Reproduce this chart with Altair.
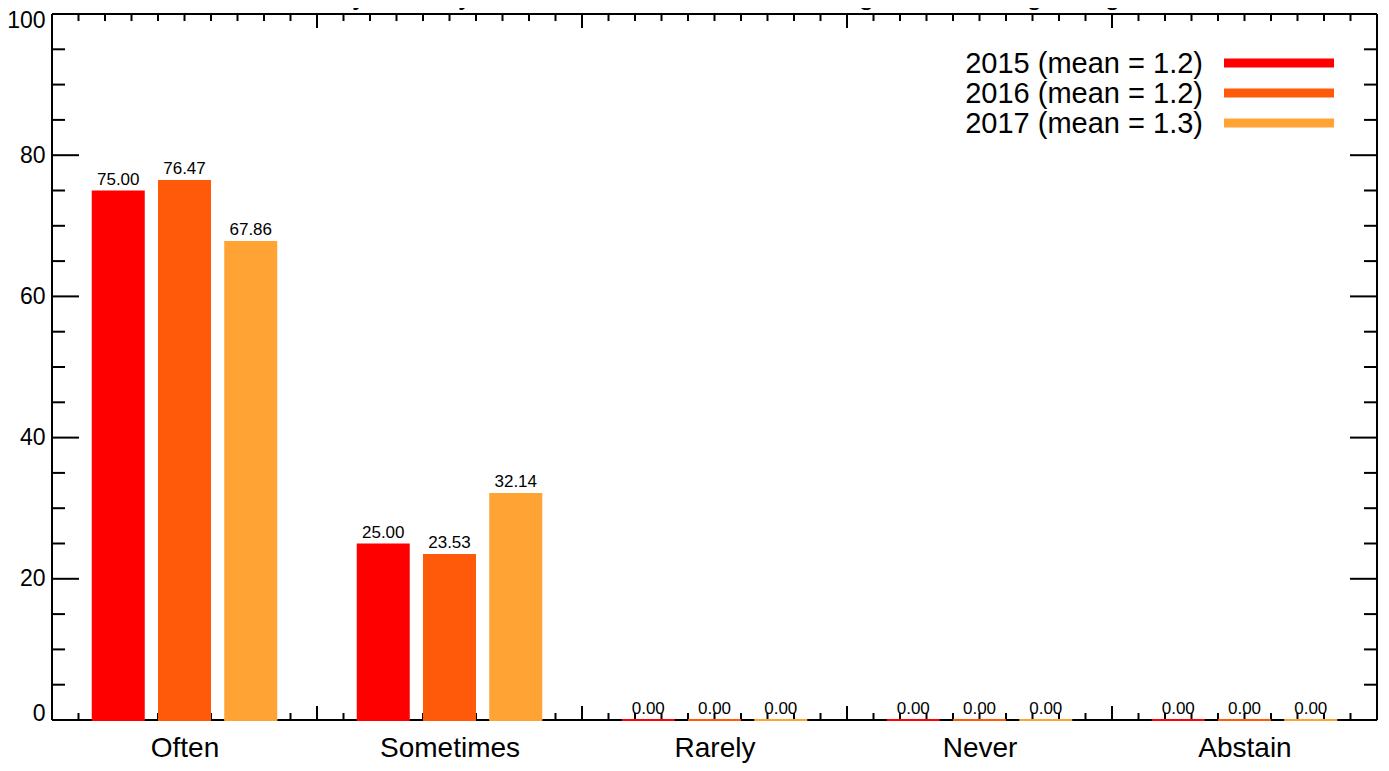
import altair as alt
import pandas as pd
import numpy as np

# ---- data ----
categories = ["Often", "Sometimes", "Rarely", "Never", "Abstain"]
years = ["2015", "2016", "2017"]
means = ["1.2", "1.2", "1.3"]
colors = ["#FF0000", "#FF5A0A", "#FFA335"]
v2015 = [75.00, 25.00, 0.00, 0.00, 0.00]
v2016 = [76.47, 23.53, 0.00, 0.00, 0.00]
v2017 = [67.86, 32.14, 0.00, 0.00, 0.00]
y_tick_labels = [0, 20, 40, 60, 80, 100]
title_text = "Do you feel you were informed of the learning and teaching rating"

W, H = 1325, 706
FONT = "Liberation Sans"

series = [v2015, v2016, v2017]
rows = []
for ci, cat in enumerate(categories):
    for yi, yr in enumerate(years):
        c = ci + 0.5 + (yi - 1) * 0.25
        v = series[yi][ci]
        rows.append({"cat": cat, "year": yr, "xc": c, "x0": c - 0.1, "x1": c + 0.1,
                     "value": v, "base": 0.0, "label": f"{v:.2f}"})
df = pd.DataFrame(rows)

xscale = alt.Scale(domain=[0, 5], nice=False, zero=False)
yscale = alt.Scale(domain=[0, 100], nice=False)
label_expr = "[" + ",".join(f"'{c}'" for c in categories) + "][floor(datum.value)]"
xaxis = alt.Axis(values=[i + 0.5 for i in range(len(categories))], labelExpr=label_expr,
                 labelFontSize=28, labelBaseline="alphabetic", labelPadding=36,
                 ticks=False, tickSize=0, domain=False, grid=False, title=None,
                 labelFlush=False, labelOverlap=False, labelColor="black", labelFont=FONT)
yaxis = alt.Axis(values=y_tick_labels, labelFontSize=23, labelFlush=True, labelFlushOffset=5,
                 ticks=False, tickSize=0, domain=False, grid=False, labelPadding=7, title=None,
                 labelColor="black", labelFont=FONT)

def X(f):
    return alt.X(f, scale=xscale, axis=xaxis)

def Y(f):
    return alt.Y(f, scale=yscale, axis=yaxis)

color = alt.Color("year:N", scale=alt.Scale(domain=years, range=colors), legend=None)

# tick positions (axis decoration)
yt = np.round(np.arange(0, 100.01, 5), 3)
ymaj = pd.DataFrame({"v": [t for t in yt if t % 20 == 0]})
ymin = pd.DataFrame({"v": [t for t in yt if t % 20 != 0]})
xt = np.round(np.arange(0, 5.001, 0.1), 3)
xmaj = pd.DataFrame({"v": [t for t in xt if abs(t - round(t)) < 1e-6]})
xmin = pd.DataFrame({"v": [t for t in xt if abs(t - round(t)) >= 1e-6]})

layers = []
# frame
one = pd.DataFrame({"a": [0]})
layers.append(alt.Chart(one).mark_rule(color="black", strokeWidth=2).encode(
    x=alt.value(0), y=alt.value(0), y2=alt.value(H)))
layers.append(alt.Chart(one).mark_rule(color="black", strokeWidth=2).encode(
    x=alt.value(W), y=alt.value(0), y2=alt.value(H)))
layers.append(alt.Chart(one).mark_rule(color="black", strokeWidth=2).encode(
    y=alt.value(0), x=alt.value(0), x2=alt.value(W)))
layers.append(alt.Chart(one).mark_rule(color="black", strokeWidth=2).encode(
    y=alt.value(H), x=alt.value(0), x2=alt.value(W)))

# y ticks left/right
for d, L in ((ymaj, 27), (ymin, 13)):
    layers.append(alt.Chart(d).mark_rule(color="black", strokeWidth=2).encode(
        y=Y("v:Q"), x=alt.value(0), x2=alt.value(L)))
    layers.append(alt.Chart(d).mark_rule(color="black", strokeWidth=2).encode(
        y=Y("v:Q"), x=alt.value(W - L), x2=alt.value(W)))
# x ticks bottom/top
for d, L in ((xmaj, 14), (xmin, 7)):
    layers.append(alt.Chart(d).mark_rule(color="black", strokeWidth=2).encode(
        x=X("v:Q"), y=alt.value(H), y2=alt.value(H - L)))
    layers.append(alt.Chart(d).mark_rule(color="black", strokeWidth=2).encode(
        x=X("v:Q"), y=alt.value(0), y2=alt.value(L)))

base = alt.Chart(df)
bars = base.mark_bar(stroke=None).encode(x=X("x0:Q"), x2="x1:Q", y=Y("value:Q"), y2="base:Q", color=color)
zero_lines = base.mark_rule(strokeWidth=2).encode(x=X("x0:Q"), x2="x1:Q", y=Y("base:Q"), color=color)
labels = base.mark_text(dy=-6, baseline="alphabetic", fontSize=17, font=FONT, color="black").encode(
    x=X("xc:Q"), y=Y("value:Q"), text="label:N")
layers += [bars, zero_lines, labels]

# legend (manual, symbols to the right of labels)
for i, (yr, m, c) in enumerate(zip(years, means, colors)):
    yc = 49 + i * 30
    ld = pd.DataFrame({"t": [f"{yr} (mean = {m})"]})
    layers.append(alt.Chart(ld).mark_text(align="right", baseline="alphabetic", fontSize=29,
                                          font=FONT, color="black").encode(
        x=alt.value(1151), y=alt.value(yc + 10), text="t:N"))
    layers.append(alt.Chart(ld).mark_rule(color=c, strokeWidth=9).encode(
        x=alt.value(1172), x2=alt.value(1282), y=alt.value(yc)))

# title (cut off at the top as in the reference)
td = pd.DataFrame({"t": [title_text]})
layers.append(alt.Chart(td).mark_text(align="center", baseline="alphabetic", fontSize=28,
                                      font=FONT, color="black").encode(
    x=alt.value(W / 2), y=alt.value(-10), text="t:N"))

chart = alt.layer(*layers).properties(
    width=W, height=H,
    autosize=alt.AutoSizeParams(type="none"),
    padding={"top": 6, "left": 44, "right": 4, "bottom": 43},
).configure_view(strokeWidth=0).configure(font=FONT)

chart.save("out.html", embed_options={"renderer": "svg", "actions": False})
